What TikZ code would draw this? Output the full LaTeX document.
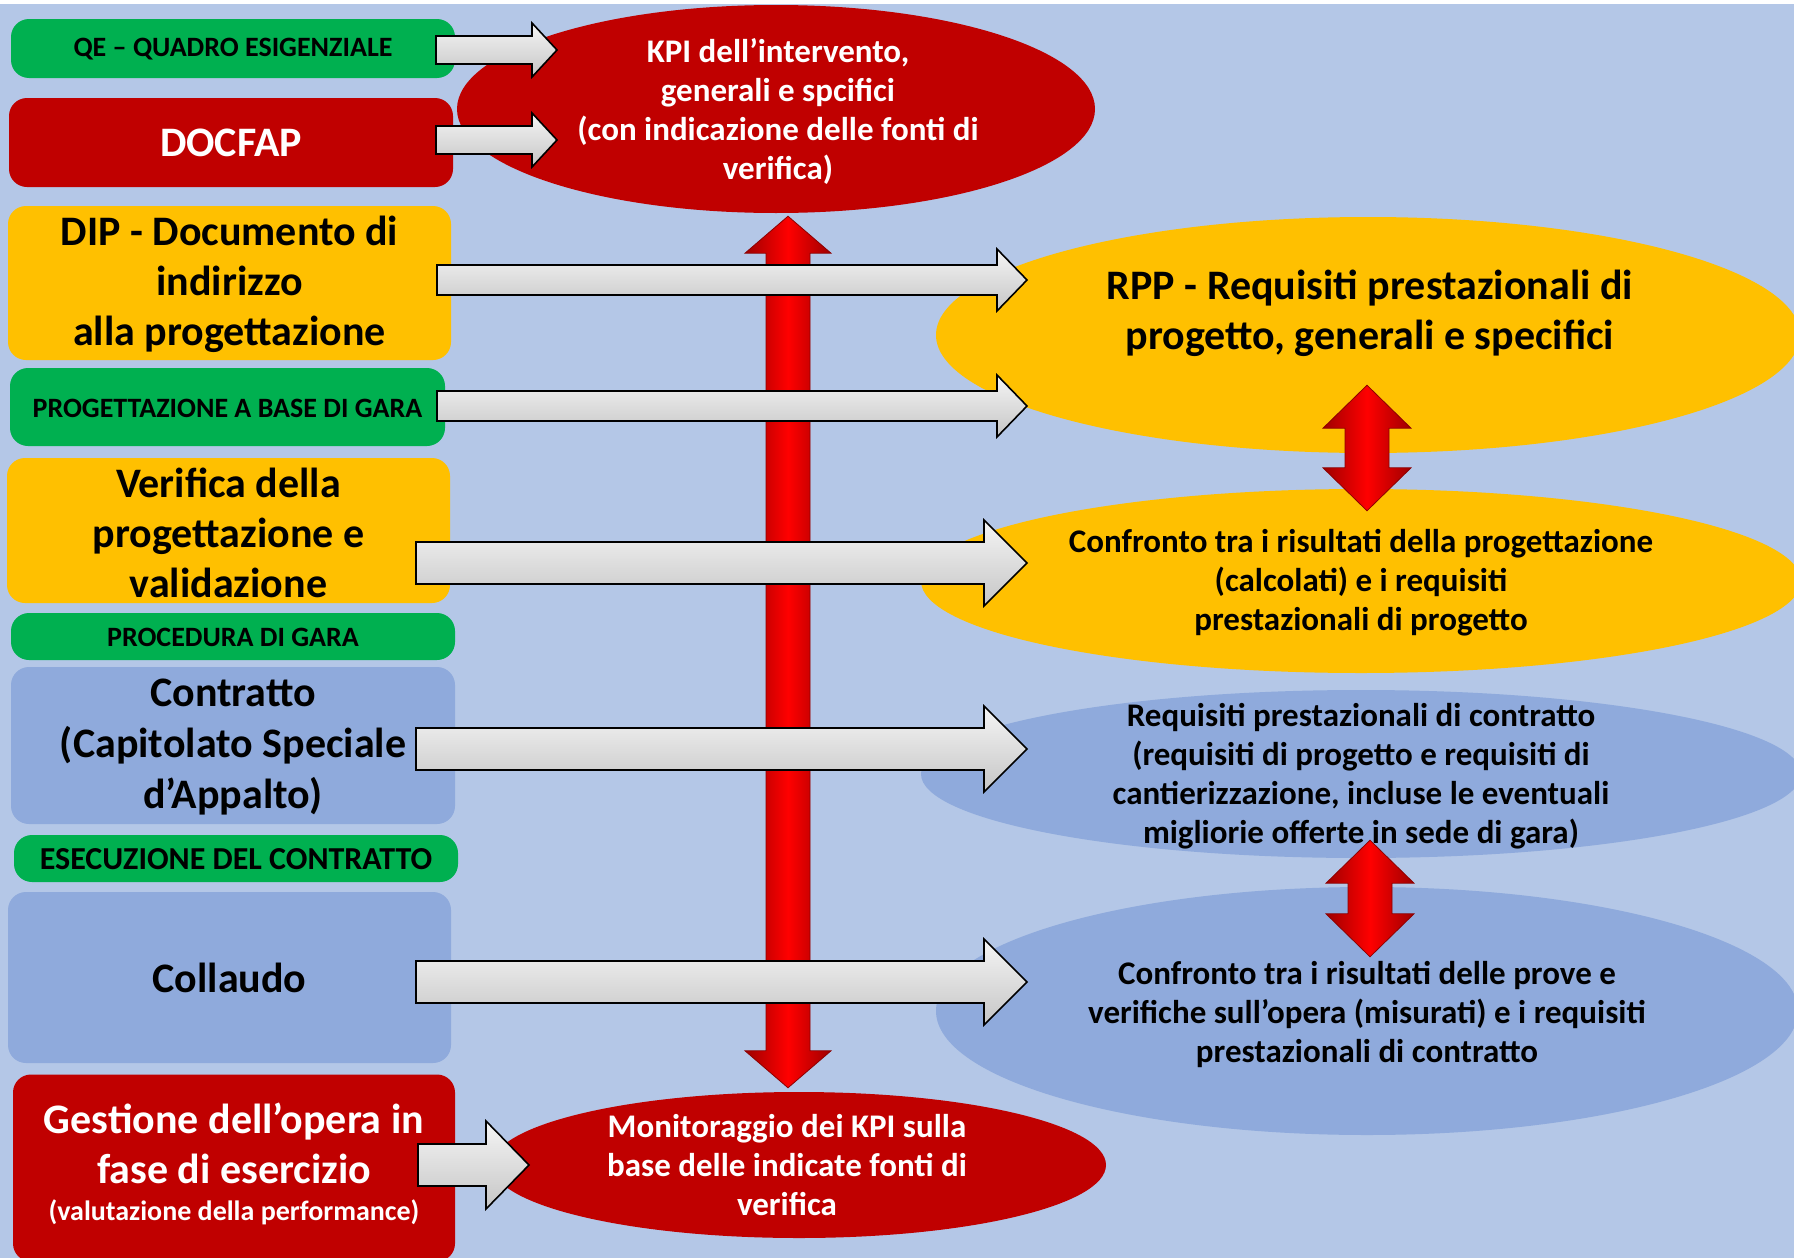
\documentclass[tikz,border=0pt]{standalone}
\usepackage{fontspec}
\setmainfont{Carlito}
\usetikzlibrary{shapes.geometric,calc}
\definecolor{bgc}{HTML}{B4C7E7}
\definecolor{grc}{HTML}{00B050}
\definecolor{rdc}{HTML}{C00000}
\definecolor{ylc}{HTML}{FFC000}
\definecolor{blc}{HTML}{8FAADC}
\newcommand\fs[2]{\fontsize{#1}{#2}\selectfont}
% horizontal block arrow: style, start, end, shaft half, head half, head length
\newcommand\harrow[6]{%
 \path[#1] let \p1=(#2), \p2=(#3) in
 (\x1,\y1+#4pt) -- (\x2-#6pt,\y1+#4pt) -- (\x2-#6pt,\y1+#5pt) -- (\x2,\y1)
 -- (\x2-#6pt,\y1-#5pt) -- (\x2-#6pt,\y1-#4pt) -- (\x1,\y1-#4pt) -- cycle;}
% vertical double block arrow: style, top, bottom, shaft half, head half, head length
\newcommand\vdarrow[6]{%
 \path[#1] let \p1=(#2), \p2=(#3) in
 (\x1,\y1) -- (\x1+#5pt,\y1-#6pt) -- (\x1+#4pt,\y1-#6pt) -- (\x1+#4pt,\y2+#6pt)
 -- (\x1+#5pt,\y2+#6pt) -- (\x1,\y2) -- (\x1-#5pt,\y2+#6pt) -- (\x1-#4pt,\y2+#6pt)
 -- (\x1-#4pt,\y1-#6pt) -- (\x1-#5pt,\y1-#6pt) -- cycle;}
\tikzset{
 box/.style={rounded corners=18, inner sep=0, align=center},
 ell/.style={ellipse, inner sep=0},
 etxt/.style={align=center, inner sep=0},
 fnt/.style 2 args={font=\bfseries\fontsize{#1}{#2}\selectfont},
 warrow/.style={draw=black, line width=1.6, top color=gray!8, middle color=white, bottom color=gray!45},
 rarrow/.style={draw=red!55!black, line width=0.8, left color=red!62!black, right color=red!62!black, middle color=red},
}
\begin{document}
\begin{tikzpicture}[x=1pt,y=1pt,font=\bfseries]
\clip (0,0) rectangle (1794,-1258);
\fill[white] (0,0) rectangle (1794,-1258);
\fill[bgc] (0,-4) rectangle (1794,-1258);

% left boxes
\node[box, fill=grc, minimum width=444, minimum height=59] (qe) at (233,-48.5) {};
\node[box, fill=rdc, minimum width=444, minimum height=89] (docfap) at (231,-142.5) {};
\node[box, fill=ylc, minimum width=443, minimum height=154] (dip) at (229.5,-283) {};
\node[box, fill=grc, minimum width=435, minimum height=78] (prog) at (227.5,-407) {};
\node[box, fill=ylc, minimum width=443, minimum height=145] (ver) at (228.5,-530.5) {};
\node[box, fill=grc, minimum width=444, minimum height=47] (proc) at (233,-636.5) {};
\node[box, fill=blc, minimum width=444, minimum height=157] (contr) at (233,-745.5) {};
\node[box, fill=grc, minimum width=444, minimum height=47] (esec) at (236,-858.5) {};
\node[box, fill=blc, minimum width=443, minimum height=171] (coll) at (229.5,-977.5) {};
\node[box, fill=rdc, minimum width=442, minimum height=187] (gest) at (234,-1168) {};

% box texts
\node[etxt, fnt={28}{33}] (tqe) at (233,-49.5) {QE – QUADRO ESIGENZIALE};
\node[etxt, text=white, fnt={42}{50}] (tdocfap) at (231,-143) {DOCFAP};
\node[etxt, fnt={42}{50}] (tdip) at (229.5,-284) {DIP - Documento di\\ indirizzo\\ alla progettazione};
\node[etxt, fnt={28}{33}] (tprog) at (227.5,-408) {PROGETTAZIONE A BASE DI GARA};
\node[etxt, fnt={42}{50}] (tver) at (228.5,-533) {Verifica della\\ progettazione e\\ validazione};
\node[etxt, fnt={28}{33}] (tproc) at (233,-637.5) {PROCEDURA DI GARA};
\node[etxt, fnt={42}{51}] (tcontr) at (233,-747) {Contratto\\ (Capitolato Speciale\\ d’Appalto)};
\node[etxt, fnt={32}{37}] (tesec) at (236,-859.5) {ESECUZIONE DEL CONTRATTO};
\node[etxt, fnt={42}{50}] (tcoll) at (229.5,-978) {Collaudo};
\node[etxt, text=white, fnt={42}{50}] (tgest) at (234,-1164) {Gestione dell’opera in\\ fase di esercizio\\[-13pt] {\fs{28}{33}(valutazione della performance)}};

% ellipses
\node[ell, fill=rdc, minimum width=638, minimum height=208] (kpi) at (776,-109) {};
\node[ell, fill=ylc, minimum width=864, minimum height=236] (rpp) at (1368,-335) {};
\node[ell, fill=ylc, minimum width=880, minimum height=184] (cy) at (1361,-581) {};
\node[ell, fill=blc, minimum width=880, minimum height=168] (req) at (1361,-774) {};
\node[ell, fill=blc, minimum width=862, minimum height=248] (cb) at (1367,-1011) {};
\node[ell, fill=rdc, minimum width=614, minimum height=146] (mon) at (799,-1165) {};

% big red vertical double arrow
\coordinate (rtop) at ([xshift=12,yshift=-3]kpi.south);
\coordinate (rbot) at ([xshift=-11,yshift=4]mon.north);
\vdarrow{rarrow}{rtop}{rbot}{22}{43}{37}

% white block arrows
\coordinate (s1) at (436,-50);   \coordinate (e1) at (557,-50);
\coordinate (s2) at (436,-140);  \coordinate (e2) at (557,-140);
\coordinate (s3) at (437,-280);  \coordinate (e3) at (1027,-280);
\coordinate (s4) at (437,-406);  \coordinate (e4) at (1027,-406);
\coordinate (s5) at (416,-563);  \coordinate (e5) at (1027,-563);
\coordinate (s6) at (416,-749);  \coordinate (e6) at (1027,-749);
\coordinate (s7) at (416,-982);  \coordinate (e7) at (1027,-982);
\coordinate (s8) at (418,-1165); \coordinate (e8) at (529,-1165);
\harrow{warrow}{s1}{e1}{14}{27}{25}
\harrow{warrow}{s2}{e2}{14}{27}{25}
\harrow{warrow}{s3}{e3}{15}{31}{30}
\harrow{warrow}{s4}{e4}{15}{31}{30}
\harrow{warrow}{s5}{e5}{21}{43}{43}
\harrow{warrow}{s6}{e6}{21}{43}{43}
\harrow{warrow}{s7}{e7}{21}{43}{43}
\harrow{warrow}{s8}{e8}{21}{44}{43}

% small red double arrows
\coordinate (u1) at ([xshift=-1,yshift=68]rpp.south);
\coordinate (u2) at ([yshift=-22]cy.north);
\coordinate (l1) at ([xshift=9,yshift=18]req.south);
\coordinate (l2) at ([yshift=-70]cb.north);
\vdarrow{rarrow}{u1}{u2}{22}{44}{43}
\vdarrow{rarrow}{l1}{l2}{22}{44}{43}

% ellipse texts
\node[etxt, text=white, fnt={33}{39}] (tkpi) at (778,-111) {KPI dell’intervento,\\ generali e spcifici\\ (con indicazione delle fonti di\\ verifica)};
\node[etxt, fnt={42}{50}] (trpp) at (1370,-313) {RPP - Requisiti prestazionali di\\ progetto, generali e specifici};
\node[etxt, fnt={33}{39}] (tcy) at (1361,-583) {Confronto tra i risultati della progettazione\\ (calcolati) e i requisiti\\ prestazionali di progetto};
\node[etxt, fnt={33}{39}] (treq) at (1361,-776) {Requisiti prestazionali di contratto\\ (requisiti di progetto e requisiti di\\ cantierizzazione, incluse le eventuali\\ migliorie offerte in sede di gara)};
\node[etxt, fnt={33}{39}] (tcb) at (1367,-1014) {Confronto tra i risultati delle prove e\\ verifiche sull’opera (misurati) e i requisiti\\ prestazionali di contratto};
\node[etxt, text=white, fnt={33}{39}] (tmon) at (787,-1165) {Monitoraggio dei KPI sulla\\ base delle indicate fonti di\\ verifica};
\end{tikzpicture}
\end{document}
